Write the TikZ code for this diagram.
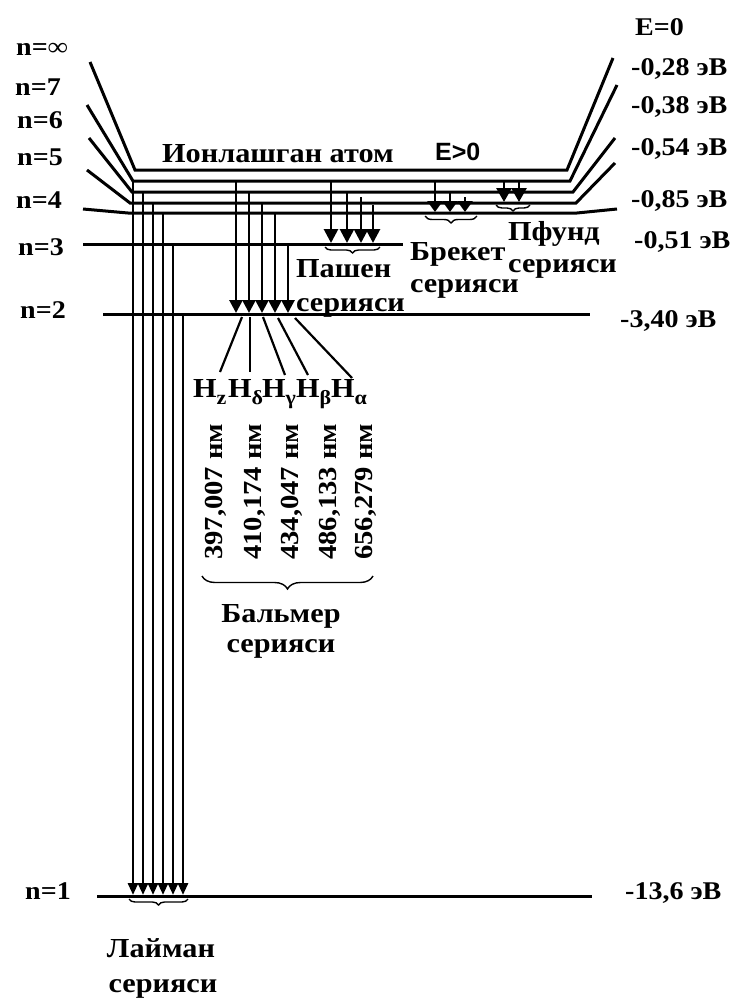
\documentclass[tikz,border=0pt]{standalone}
\usepackage{fontspec}
\setmainfont{Liberation Serif}[FakeStretch=1.1]
\newfontfamily\sanslabel{Liberation Sans}
\usetikzlibrary{arrows.meta, decorations.pathreplacing, positioning}
\newcommand\wordsize{\fontsize{27.5}{32}\selectfont}
\newcommand\hsub[1]{\raisebox{-7pt}{\fontsize{20}{20}\selectfont #1}}

\begin{document}
\begin{tikzpicture}[x=1pt, y=-1pt, font=\bfseries\fontsize{25.5}{30}\selectfont]
\tikzstyle{level} = [line width=3pt]
\tikzstyle{jump} = [line width=2.8pt]
\tikzstyle{spoke} = [line width=2.2pt]
\tikzstyle{lbl} = [inner sep=0pt, anchor=base west]
\tikzstyle{word} = [lbl, font=\bfseries\wordsize]
\tikzstyle{series brace} = [decorate, decoration={brace, mirror, amplitude=6pt}, line width=1.4pt]
\useasboundingbox (0,0) rectangle (734,1001);

% energy levels
\draw[level] (90,62) -- (135,170) -- (567,170) -- (613,58);
\draw[level] (87,105) -- (133,181) -- (570,181) -- (617,85);
\draw[level] (89,138) -- (132,192) -- (573,192) -- (615,138);
\draw[level] (87,170) -- (130,203) -- (576,203) -- (615,163);
\draw[level] (83,209) -- (128,213) -- (577,213) -- (617,209);
\draw[level] (83,244) -- (403,244);
\draw[level] (103,314) -- (590,314);
\draw[level] (97,896) -- (592,896);

% level names
\node[lbl] (ninf) at (16,55) {n=∞};
\node[lbl] (n7) at (15,95) {n=7};
\node[lbl] (n6) at (17,128) {n=6};
\node[lbl] (n5) at (17,165) {n=5};
\node[lbl] (n4) at (16,208) {n=4};
\node[lbl] (n3) at (18,255) {n=3};
\node[lbl] (n2) at (20,318) {n=2};
\node[lbl] (n1) at (25,899) {n=1};

% energies
\node[lbl] (e0) at (635,35) {E=0};
\node[lbl] (e7) at (631,75) {-0,28 эВ};
\node[lbl] (e6) at (631,113) {-0,38 эВ};
\node[lbl] (e5) at (631,155) {-0,54 эВ};
\node[lbl] (e4) at (631,207) {-0,85 эВ};
\node[lbl] (e3) at (634,248) {-0,51 эВ};
\node[lbl] (e2) at (620,327) {-3,40 эВ};
\node[lbl] (e1) at (625,899) {-13,6 эВ};

\node[word] (ion) at (162,162) {Ионлашган атом};
\node[lbl, font=\sanslabel\bfseries\fontsize{25}{30}\selectfont] (epos) at (435,160) {E>0};

% Lyman
\foreach \x/\y in {133/181,143/192,153/203,163/213,173/244,183/314}
  \draw[jump, -{Triangle[width=10pt,length=12pt]}] (\x,\y) -- (\x,895);
\draw[series brace] (129,899) -- (188,899);
\node[word, anchor=base] (lyman) at (161,957) {Лайман};
\node[word, anchor=base] (lymans) at (163,992) {серияси};

% Balmer
\foreach \x/\y in {236/181,249/192,262/203,275/213,288/244}
  \draw[jump, -{Triangle[width=13pt,length=13pt]}] (\x,\y) -- (\x,313);
\coordinate (b1) at (242,317); \coordinate (b2) at (250,317);
\coordinate (b3) at (263,317); \coordinate (b4) at (278,318);
\coordinate (b5) at (295,318);
\coordinate (h1) at (220,372); \coordinate (h2) at (250,372);
\coordinate (h3) at (285,375); \coordinate (h4) at (308,375);
\coordinate (h5) at (352,378);
\foreach \i in {1,...,5}
  \draw[spoke] (b\i) -- (h\i);
\node[word] (hz) at (193,397) {H\hsub{z}};
\node[word] (hd) at (228,397) {H\hsub{δ}};
\node[word] (hg) at (262,397) {H\hsub{γ}};
\node[word] (hb) at (296,397) {H\hsub{β}};
\node[word] (ha) at (331,397) {H\hsub{α}};
\foreach \x/\w in {222/{397,007 нм},261/{410,174 нм},298/{434,047 нм},336/{486,133 нм},372/{656,279 нм}}
  \node[lbl, rotate=90, font=\bfseries\fontsize{26}{30}\selectfont] at (\x,560) {\w};
\draw[series brace, decoration={amplitude=13pt}] (202,576) -- (373,576);
\node[word, anchor=base] (balmer) at (281,622) {Бальмер};
\node[word, anchor=base] (balmers) at (281,652) {серияси};

% Paschen
\foreach \x/\y in {331/181,347/192,361/197,373/205}
  \draw[jump, -{Triangle[width=14pt,length=14pt]}] (\x,\y) -- (\x,243);
\draw[series brace] (325,247) -- (380,247);
\node[word] (paschen) at (296,277) {Пашен};
\node[word] (paschens) at (296,311) {серияси};

% Brackett
\foreach \x/\y in {435/181,450/192,465/197}
  \draw[jump, -{Triangle[width=15pt,length=11pt]}] (\x,\y) -- (\x,212);
\draw[series brace, decoration={amplitude=7pt}] (425,216) -- (477,216);
\node[word] (brackett) at (410,260) {Брекет};
\node[word] (bracketts) at (410,292) {серияси};

% Pfund
\foreach \x in {504,519}
  \draw[jump, -{Triangle[width=15pt,length=14pt]}] (\x,181) -- (\x,202);
\draw[series brace] (496,205) -- (530,205);
\node[word] (pfund) at (508,240) {Пфунд};
\node[word] (pfunds) at (508,272) {серияси};
\end{tikzpicture}
\end{document}
